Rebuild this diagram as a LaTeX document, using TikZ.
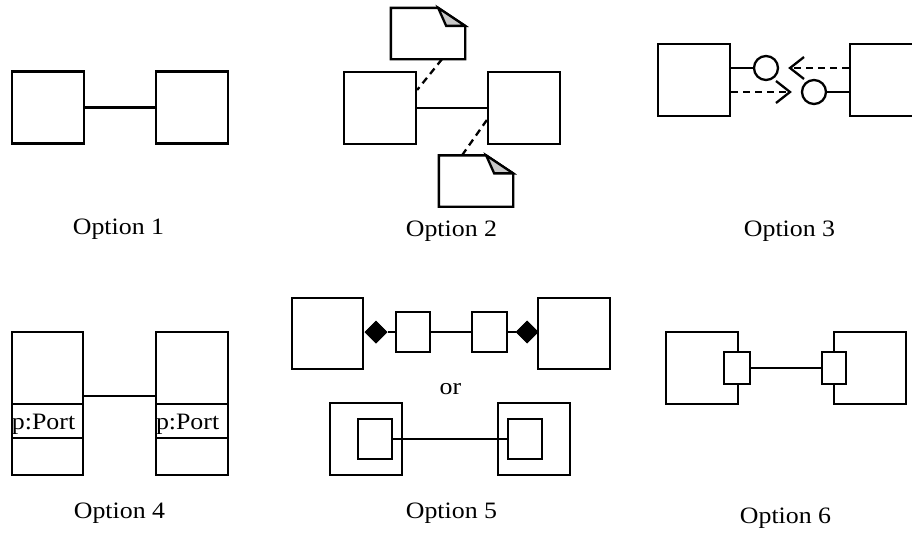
\documentclass[tikz,border=0pt]{standalone}
\usepackage{fontspec}
\setmainfont{Liberation Serif}[FakeStretch=1.1]
\usetikzlibrary{arrows.meta}
\usetikzlibrary{shapes.geometric}
\definecolor{foldgray}{RGB}{200,200,200}

\begin{document}
\begin{tikzpicture}[x=1pt, y=-1pt, line width=2.3pt,
	font=\fontsize{23.5}{28}\selectfont,
	part/.style={draw, inner sep=0pt, minimum width=72, minimum height=72},
	port/.style={draw, fill=white, inner sep=0pt, minimum width=34, minimum height=40},
	portrow/.style={draw, inner sep=0pt, minimum width=71, minimum height=34, text width=71, text height=16, text depth=0, align=left},
	note/.style={inner sep=0pt, minimum width=72, minimum height=49},
	iface/.style={draw, circle, fill=white, inner sep=0pt, minimum size=24},
	agg/.style={diamond, draw, fill=black, line width=1pt, inner sep=0pt, minimum size=22},
	caption/.style={anchor=base},
	dep/.style={dash pattern=on 7pt off 5pt},
	open/.style={-{Straight Barb[length=14pt, width=22pt]}}]
	\useasboundingbox (0,0) rectangle (912,533);
	\clip (0,0) rectangle (912,533);

	% option 1
	\node [part] (a1) at (48,107.5) {};
	\node [part] (b1) at (192,107.5) {};
	\draw (a1) -- (b1);
	\node [caption] (l1) at (118.5,234) {Option 1};

	% option 2
	\node [part] (a2) at (380,108) {};
	\node [part] (b2) at (524,108) {};
	\draw (a2) -- (b2);
	\node [note] (n2a) at (428,33.5) {};
	\node [note] (n2b) at (476,181) {};
	\foreach \n in {n2a,n2b} {
		\draw [fill=white] (\n.north west) -- ([xshift=-27]\n.north east) -- ([yshift=-18]\n.north east) -- (\n.south east) -- (\n.south west) -- cycle;
		\draw [fill=foldgray] ([xshift=-27]\n.north east) -- ([xshift=-19,yshift=-18]\n.north east) -- ([yshift=-18]\n.north east) -- cycle;
	}
	\draw [dep] ([xshift=14]n2a.south) -- ([yshift=18]a2.east);
	\draw [dep] ([yshift=-12]b2.west) -- ([xshift=-14]n2b.north);
	\node [caption] (l2) at (451.5,236) {Option 2};

	% option 3
	\node [part] (a3) at (694,80) {};
	\node [part] (b3) at (886,80) {};
	\node [iface] (c3a) at (766,68) {};
	\node [iface] (c3b) at (814,92) {};
	\draw (c3a.west) -- (c3a.west -| a3.east);
	\draw (c3b.east) -- (c3b.east -| b3.west);
	\draw [dep, open] (c3a.east -| b3.west) -- ([xshift=9]c3a.east);
	\draw [dep, open] (c3b.west -| a3.east) -- ([xshift=-9]c3b.west);
	\node [caption] (l3) at (789.5,236) {Option 3};

	% option 4
	\node [part, minimum width=71, minimum height=143] (a4) at (47.5,403.5) {};
	\node [part, minimum height=143] (b4) at (192,403.5) {};
	\node [portrow] (p4a) at (47.5,421) {p:Port};
	\node [portrow, minimum width=72, text width=72] (p4b) at (192,421) {p:Port};
	\draw ([yshift=7.5]a4.east) -- ([yshift=7.5]b4.west);
	\node [caption] (l4) at (119.5,518) {Option 4};

	% option 5
	\node [part, minimum width=71, minimum height=71] (a5) at (327.5,333.5) {};
	\node [part, minimum height=71] (b5) at (574,333.5) {};
	\node [agg] (d5a) at (376,332) {};
	\node [agg] (d5b) at (527,332) {};
	\node [port] (s5a) at (413,332) {};
	\node [port, minimum width=35] (s5b) at (489.5,332) {};
	\draw (d5a) -- (s5a) -- (s5b) -- (d5b);
	\node (or5) at (450.5,394) [caption] {or};
	\node [part] (o5a) at (366,439) {};
	\node [part] (o5b) at (534,439) {};
	\node [port] (i5a) at (375,439) {};
	\node [port] (i5b) at (525,439) {};
	\draw ([xshift=-2]i5a.east) -- (i5b.west);
	\node [caption] (l5) at (451.5,518) {Option 5};

	% option 6
	\node [part] (a6) at (702,368) {};
	\node [part] (b6) at (870,368) {};
	\node [port, minimum width=26, minimum height=32] (t6a) at (737,368) {};
	\node [port, minimum width=24, minimum height=32] (t6b) at (834,368) {};
	\draw (t6a) -- (t6b);
	\node [caption] (l6) at (785.5,523) {Option 6};
\end{tikzpicture}
\end{document}
